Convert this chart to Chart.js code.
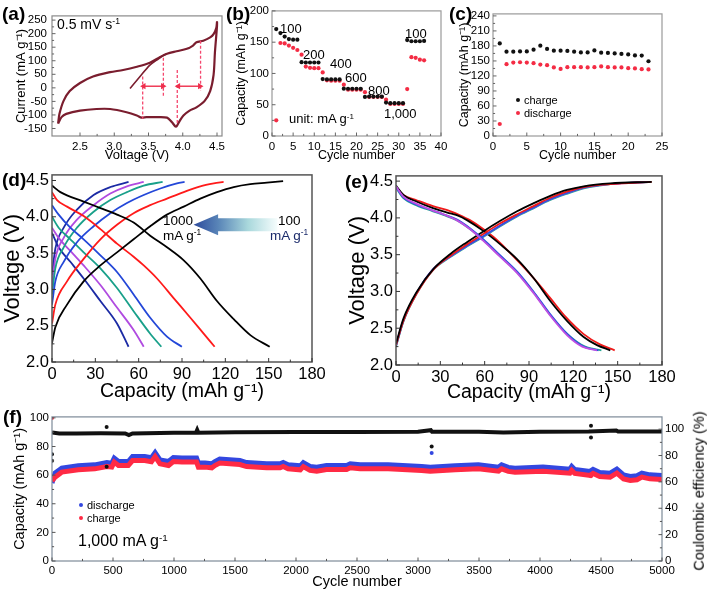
<!DOCTYPE html>
<html><head><meta charset="utf-8">
<script src="https://cdn.jsdelivr.net/npm/chart.js@4/dist/chart.umd.min.js"></script>
<style>
html,body{margin:0;padding:0;background:#fff;}
#root{position:relative;width:709px;height:593px;overflow:hidden;background:#fff;font-family:"Liberation Sans",Arial,sans-serif;}
canvas{position:absolute;}
.t{position:absolute;white-space:nowrap;line-height:1;color:#000;z-index:5;}
.t sup{font-size:0.62em;vertical-align:0.55em;line-height:0;}
.b{font-weight:bold;}
.rot{transform:translate(-50%,-50%) rotate(-90deg);}
.dot{position:absolute;border-radius:50%;z-index:5;}
</style></head><body><div id="root"></div>
<script>
// ---------------- DATA ----------------
// (a) cyclic voltammogram  [V, mA/g]
const cvStart = [[3.23,-2],[3.376,42],[3.52,84],[3.62,102],[3.72,120],[3.77,126]];
const cvLoop = [[2.18,-132],[2.2,-96],[2.26,-48],[2.35,-12],[2.5,18],[2.69,42],[2.94,58],[3.13,66],[3.33,78],[3.52,93],[3.67,114],[3.77,126],[3.91,135],[4.06,144],[4.15,156],[4.2,168],[4.3,174],[4.4,186],[4.45,198],[4.49,222],[4.5,243],[4.5,228],[4.47,132],[4.45,48],[4.4,-12],[4.32,-48],[4.2,-72],[4.1,-84],[4.01,-102],[3.96,-120],[3.91,-142],[3.89,-142],[3.84,-126],[3.77,-110],[3.62,-108],[3.47,-108],[3.4,-110],[3.33,-102],[3.18,-90],[2.94,-78],[2.74,-78],[2.5,-84],[2.3,-96],[2.23,-108],[2.18,-132]];
const peakV = [3.415, 3.717, 3.92, 4.26];
const peakTop = [42, 111, 66, 174];
const peakBottom = [-114, -30, -132, -12];
const shiftArrows = [[3.43, 3.71], [3.935, 4.25]];
const shiftArrowI = 6;
const aXTicks = [2.5, 3.0, 3.5, 4.0, 4.5];
const aYTicks = [-150, -100, -50, 0, 50, 100, 150, 200, 250];

// (b) rate capability
const bCycles = [1,2,3,4,5,6,7,8,9,10,11,12,13,14,15,16,17,18,19,20,21,22,23,24,25,26,27,28,29,30,31,32,33,34,35,36];
const bCharge = [171,164.5,159,155,154,154,118,117.5,117.5,117.5,117.5,91,90.5,90.5,90.5,90.5,75.7,75.5,75.5,75.5,75.5,62.4,63,63,63,63,53.4,52.5,52.5,52.5,52.5,153.4,151.5,151.5,151.5,152];
const bDischarge = [25,148.7,148,144.5,141,137.5,130,111,109,108.5,108.5,101.6,89,88.4,88.4,88.4,82,74,74,74,74,70,62.4,62.4,62.4,62.4,58,51.3,51.3,51.3,51.3,75,126,125,122,121];
const bXTicks = [0,5,10,15,20,25,30,35,40];
const bYTicks = [0,50,100,150,200];

// (c) cycling at 100 mA/g
const cCycles = [1,2,3,4,5,6,7,8,9,10,11,12,13,14,15,16,17,18,19,20,21,22,23];
const cCharge = [185,168.6,168.6,169,169,172.6,180.5,174,170.6,170.6,170,168.6,167,167,171,166.6,166,165,164,163,161,160.7,149.4];
const cDischarge = [24,143.5,146.8,147.4,146.8,145.5,142.8,141.5,137,134,137.5,137.5,137.5,137,137.5,139,137.5,137,137,135.5,135,133.5,133];
const cXTicks = [0,5,10,15,20,25];
const cYTicks = [0,30,60,90,120,150,180,210,240];

// (d) charge / discharge profiles at different rates [mAh/g, V]
const d100c = [[0,2.26],[2.3,2.48],[10.4,2.79],[21.9,3.11],[33.5,3.33],[45,3.51],[56.5,3.69],[68,3.87],[79.6,4.03],[91.2,4.14],[102.7,4.25],[114.2,4.34],[125.8,4.41],[137.3,4.45],[148.8,4.47],[160,4.49]];
const d100d = [[0,4.43],[5.8,4.34],[21.9,4.21],[33.5,4.12],[45,4.03],[56.5,3.92],[68,3.74],[79.6,3.58],[91.2,3.40],[102.7,3.15],[114.2,2.84],[125.8,2.59],[137.3,2.37],[150.7,2.21]];
const d200c = [[0,2.53],[2.3,2.79],[10.4,3.11],[21.9,3.42],[33.5,3.69],[45,3.89],[56.5,4.05],[68,4.16],[79.6,4.25],[91.2,4.34],[102.7,4.42],[112,4.46],[118.8,4.48]];
const d200d = [[0,4.34],[3.5,4.23],[10.4,4.14],[21.9,4.01],[33.5,3.83],[45,3.63],[56.5,3.45],[63.5,3.33],[72.7,3.15],[84.2,2.88],[95.8,2.61],[105,2.39],[112.6,2.21]];
const d400c = [[0,2.79],[2.3,3.11],[8.1,3.38],[17.3,3.65],[28.8,3.87],[40.4,4.05],[51.9,4.19],[63.5,4.30],[75,4.39],[86.5,4.46],[91.8,4.48]];
const d400d = [[0,4.16],[4.6,4.03],[12.7,3.85],[21.9,3.69],[33.5,3.47],[45,3.24],[56.5,2.93],[68,2.61],[79.6,2.35],[89.9,2.21]];
const d600c = [[0,2.93],[2.3,3.29],[8.1,3.58],[17.3,3.85],[28.8,4.07],[40.4,4.23],[51.9,4.34],[63.5,4.43],[76.6,4.48]];
const d600d = [[0,4.0],[4.6,3.85],[12.7,3.69],[21.9,3.51],[33.5,3.29],[45,3.02],[56.5,2.70],[68,2.39],[75.7,2.21]];
const d800c = [[0,3.06],[2.3,3.42],[8.1,3.71],[17.3,3.96],[28.8,4.16],[40.4,4.32],[51.9,4.42],[63.5,4.48]];
const d800d = [[0,3.85],[4.6,3.71],[12.7,3.53],[21.9,3.33],[33.5,3.06],[45,2.75],[56.5,2.44],[63.5,2.21]];
const d1000c = [[0,3.2],[2.3,3.56],[8.1,3.85],[17.3,4.10],[28.8,4.30],[40.4,4.41],[53,4.48]];
const d1000d = [[0,3.78],[4.6,3.58],[12.7,3.38],[21.9,3.15],[33.5,2.84],[45,2.53],[53,2.21]];
const capTicks = [0,30,60,90,120,150,180];
const voltTicks = [2.0,2.5,3.0,3.5,4.0,4.5];

// (e) profiles at selected cycles
const eBlackC = [[0,2.29],[5.2,2.64],[14.2,3.0],[25.5,3.31],[36.8,3.51],[48,3.67],[59.3,3.82],[70.6,3.96],[81.9,4.09],[93.2,4.2],[104.4,4.3],[115.7,4.38],[127,4.43],[145,4.47],[173,4.49]];
const eRedC = [[0,2.27],[5,2.6],[14,2.97],[25,3.29],[37,3.49],[48,3.64],[59,3.78],[70,3.92],[82,4.05],[93,4.16],[104,4.27],[116,4.36],[127,4.42],[145,4.46],[173,4.49]];
const eBlueC = [[0,2.26],[5,2.6],[14,2.98],[25,3.3],[37,3.48],[48,3.62],[59,3.75],[70,3.89],[82,4.03],[93,4.14],[104,4.25],[116,4.34],[127,4.41],[145,4.46],[172,4.49]];
const eGreenC = [[0,2.25],[5,2.59],[14,2.97],[25,3.29],[37,3.47],[48,3.61],[59,3.74],[70,3.88],[82,4.02],[93,4.13],[104,4.24],[116,4.33],[127,4.40],[145,4.46],[173,4.49]];
const eMagC = [[0,2.27],[5,2.61],[14,2.98],[25,3.3],[37,3.48],[48,3.62],[59,3.75],[70,3.89],[82,4.03],[93,4.14],[104,4.25],[116,4.34],[127,4.41],[145,4.46],[171,4.49]];
const eBlackD = [[0,4.44],[5.2,4.31],[14.2,4.22],[25.5,4.13],[36.8,4.06],[42,4.03],[48,3.97],[59.3,3.82],[70.6,3.64],[81.9,3.44],[93.2,3.18],[104.4,2.87],[115.7,2.6],[127,2.38],[136,2.27],[145,2.2]];
const eRedD = [[0,4.42],[5,4.31],[14,4.24],[25,4.16],[37,4.09],[43,4.04],[50,3.97],[59,3.85],[66,3.74],[75,3.57],[85,3.36],[94,3.16],[104,2.92],[115,2.65],[127,2.42],[138,2.28],[148,2.2]];
const eBlueD = [[0,4.42],[5,4.28],[14,4.18],[25,4.1],[32,4.05],[41,3.98],[50,3.86],[59,3.71],[70,3.5],[82,3.27],[93,3.0],[104,2.7],[116,2.42],[127,2.25],[137,2.2]];
const eGreenD = [[0,4.41],[5,4.27],[14,4.17],[25,4.09],[32,4.04],[41,3.97],[50,3.85],[59,3.7],[70,3.49],[82,3.26],[93,2.99],[104,2.69],[116,2.42],[128,2.25],[139,2.2]];
const eMagD = [[0,4.43],[5,4.29],[14,4.19],[25,4.1],[32,4.05],[41,3.97],[50,3.85],[59,3.69],[70,3.48],[82,3.25],[93,2.98],[104,2.68],[116,2.4],[126,2.25],[136,2.2]];

// (f) long-term cycling at 1,000 mA/g
const fCycles = [0,25,80,215,350,450,490,510,545,625,660,760,815,845,885,955,995,1065,1145,1185,1200,1255,1310,1335,1375,1540,1595,1760,1870,1895,1935,2035,2060,2115,2170,2250,2415,2445,2525,2755,3030,3100,3305,3495,3660,3685,3740,3795,4025,4245,4260,4285,4410,4435,4490,4575,4630,4685,4740,4795,4835,4900,5000];
const fDischarge = [54.5,61.4,64.9,66.5,67.2,68.8,68.4,71.9,69.5,69.5,73.0,73.0,72.2,75.8,70.7,69.5,72.3,71.9,71.9,71.9,68.4,68.4,67.9,69.5,71.2,70.2,68.8,67.9,67.9,68.8,67.2,66.5,68.8,66.1,65.6,66.7,66.7,67.9,67.2,67.2,66.1,65.6,66.5,67.2,65.6,67.2,65.4,64.9,65.6,64.2,66.1,64.0,62.6,64.0,61.9,61.4,64.2,60.2,59.1,59.6,61.4,60.2,59.8];
const fCharge = [56.0,58.6,62.1,63.7,64.4,66.0,65.6,69.1,66.7,66.7,70.2,70.2,69.4,73.0,67.9,66.7,69.5,69.1,69.1,69.1,65.6,65.6,65.1,66.7,68.4,67.4,66.0,65.1,65.1,66.0,64.4,63.7,66.0,63.3,62.8,63.9,63.9,65.1,64.4,64.4,63.3,62.8,63.7,64.4,62.8,64.4,62.6,62.1,62.8,61.4,63.3,61.2,59.8,61.2,59.1,58.6,61.4,57.4,56.3,56.8,58.6,57.4,57.0];
const fCECycles = [0,60,200,400,600,630,660,1000,1180,1190,1200,1500,2000,2500,3000,3105,3115,3500,3700,4000,4400,4625,4640,5000];
const fCE = [97.5,96.8,96.8,96.9,96.8,95.5,96.8,97.2,97.3,99.5,97.3,97.6,97.8,97.9,98.0,99.2,98.0,98.1,97.4,98.1,98.3,99.0,98.2,98.2];
const fCEOutX = [0,0,448,448,3112,4418,4418];
const fCEOutY = [81,76,101.7,71.5,86.9,102.5,93.7];
const fDisOutX = [3112];
const fDisOutY = [75.4];
const fChgOutX = [0,4418];
const fChgOutY = [100,59.2];
const fXTicks = [0,500,1000,1500,2000,2500,3000,3500,4000,4500,5000];
const fYTicks = [0,20,40,60,80,100];
const fY2Ticks = [0,20,40,60,80,100];

// ---------------- DRAWING ----------------
const FONT = '"Liberation Sans", Arial, sans-serif';
Chart.defaults.font.family = FONT;
Chart.defaults.color = '#000';
const root = document.getElementById('root');

const framePlugin = {
  id: 'frame',
  afterDatasetsDraw(chart, args, o) {
    if (!o || !o.color) return;
    const {ctx, chartArea: a} = chart;
    ctx.save();
    ctx.strokeStyle = o.color; ctx.lineWidth = o.width;
    ctx.strokeRect(a.left, a.top, a.right - a.left, a.bottom - a.top);
    ctx.lineWidth = 1; ctx.strokeStyle = o.tickColor || o.color;
    for (const s of Object.values(chart.scales)) {
      const vals = s.ticks.map(t => t.value);
      const marks = [];
      vals.forEach((v, i) => { marks.push([v, o.len]); if (i < vals.length - 1) marks.push([(v + vals[i + 1]) / 2, o.len * 0.6]); });
      for (const [v, L] of marks) {
        const p = s.getPixelForValue(v);
        ctx.beginPath();
        if (s.isHorizontal()) { ctx.moveTo(p, a.bottom); ctx.lineTo(p, a.bottom - L); }
        else if (s.position === 'right') { ctx.moveTo(a.right, p); ctx.lineTo(a.right - L, p); }
        else { ctx.moveTo(a.left, p); ctx.lineTo(a.left + L, p); }
        ctx.stroke();
      }
    }
    ctx.restore();
  }
};
Chart.register(framePlugin);

function axis(o) {
  return {
    type: 'linear', position: o.pos, min: o.min, max: o.max,
    grid: {display: false, drawTicks: false}, border: {display: false},
    afterBuildTicks: s => { s.ticks = o.ticks.map(v => ({value: v})); },
    afterFit: s => { if (o.pos === 'bottom') s.height = o.size; else s.width = o.size; },
    ticks: {font: {size: o.fs, family: FONT}, color: '#000', padding: o.pad === undefined ? 4 : o.pad,
            autoSkip: false, maxRotation: 0, minRotation: 0, callback: o.fmt || (v => v)},
    title: {display: !!o.title, text: o.title || '', font: {size: o.tfs, family: FONT}, color: '#000', padding: 0}
  };
}

function panel(p) {
  const [x0, y0, x1, y1] = p.area;
  const W = x1 - x0 + p.lw + p.rw, H = y1 - y0 + p.tp + p.bh;
  const cv = document.createElement('canvas');
  cv.width = W; cv.height = H;
  Object.assign(cv.style, {left: (x0 - p.lw) + 'px', top: (y0 - p.tp) + 'px', width: W + 'px', height: H + 'px'});
  root.appendChild(cv);
  const scales = {
    x: axis(Object.assign({pos: 'bottom', size: p.bh}, p.x)),
    y: axis(Object.assign({pos: 'left', size: p.lw}, p.y))
  };
  if (p.y2) scales.y2 = axis(Object.assign({pos: 'right', size: p.rw}, p.y2));
  return new Chart(cv, {
    type: 'scatter',
    data: {datasets: p.datasets},
    plugins: p.plugins || [],
    options: {
      responsive: false, animation: false, events: [], devicePixelRatio: 1,
      layout: {padding: {left: 0, top: p.tp, right: p.y2 ? 0 : p.rw, bottom: 0}},
      plugins: {legend: {display: false}, tooltip: {enabled: false}, frame: p.frame},
      scales
    }
  });
}

const pairs = arr => arr.map(([x, y]) => ({x, y}));
const zipXY = (xs, ys) => xs.map((x, i) => ({x, y: ys[i]}));
function curve(data, color, w, extra) {
  return Object.assign({data, showLine: true, borderColor: color, backgroundColor: color, borderWidth: w,
    pointRadius: 0, tension: 0, fill: false}, extra || {});
}
function dots(data, color, r, extra) {
  return Object.assign({data, showLine: false, pointRadius: r, pointBackgroundColor: color, backgroundColor: color,
    pointBorderWidth: 0, borderColor: color}, extra || {});
}
const mono = {cubicInterpolationMode: 'monotone'};
const one = v => Number(v).toFixed(1);

// ----- (a)
const aSets = [];
shiftArrows.forEach(([l, r]) => aSets.push(curve([{x: l, y: shiftArrowI}, {x: r, y: shiftArrowI}], '#ee2e4c', 1.4,
  {pointRadius: 3.6, pointStyle: 'triangle', pointRotation: [270, 90], pointBackgroundColor: '#ee2e4c', pointBorderWidth: 0})));
peakV.forEach((v, i) => aSets.push(curve([{x: v, y: peakTop[i]}, {x: v, y: peakBottom[i]}], '#f5476e', 1.3, {borderDash: [3, 2]})));
aSets.push(curve(pairs(cvLoop), '#7a1d2e', 2.2, {tension: 0.3}));
aSets.push(curve(pairs(cvStart), '#7a1d2e', 1.6, {tension: 0.3}));
panel({area: [52, 13, 222, 136], lw: 38, bh: 27, rw: 14, tp: 9,
  x: {min: 2.091, max: 4.573, ticks: aXTicks, fs: 11.5, tfs: 13, title: 'Voltage (V)', fmt: one},
  y: {min: -177.7, max: 265.5, ticks: aYTicks, fs: 11.5, tfs: 13, title: 'Current (mA g⁻¹)', pad: 5},
  frame: {color: '#8a8a8a', width: 1.2, len: 3.5, tickColor: '#666'},
  datasets: aSets});

// ----- (b)
panel({area: [272, 10, 441, 136], lw: 38, bh: 27, rw: 14, tp: 9,
  x: {min: 0, max: 40, ticks: bXTicks, fs: 11.5, tfs: 12.5, title: 'Cycle number'},
  y: {min: 0, max: 200, ticks: bYTicks, fs: 11.5, tfs: 12.5, title: 'Capacity (mAh g⁻¹)', pad: 3},
  frame: {color: '#9a9a9a', width: 1.2, len: 3.5, tickColor: '#666'},
  datasets: [dots(zipXY(bCycles, bCharge), '#111111', 2.1), dots(zipXY(bCycles, bDischarge), '#f42c44', 2.1)]});

// ----- (c)
panel({area: [493, 13, 662, 136], lw: 36, bh: 27, rw: 14, tp: 9,
  x: {min: 0, max: 25, ticks: cXTicks, fs: 11.5, tfs: 12.5, title: 'Cycle number'},
  y: {min: 0, max: 244, ticks: cYTicks, fs: 11.5, tfs: 12.5, title: 'Capacity (mAh g⁻¹)', pad: 3},
  frame: {color: '#9a9a9a', width: 1.2, len: 3.5, tickColor: '#666'},
  datasets: [dots(zipXY(cCycles, cCharge), '#111111', 2.1), dots(zipXY(cCycles, cDischarge), '#f42c44', 2.1)]});

// ----- (d)
const dArrow = {tip: 98, neck: 115, tail: 156, v: 3.89};
const arrowPlugin = {
  id: 'rateArrow',
  afterDatasetsDraw(chart) {
    const {ctx} = chart; const xs = chart.scales.x, ys = chart.scales.y;
    const xt = xs.getPixelForValue(dArrow.tip), xn = xs.getPixelForValue(dArrow.neck);
    const xe = xs.getPixelForValue(dArrow.tail), yc = ys.getPixelForValue(dArrow.v);
    const g = ctx.createLinearGradient(xt, 0, xe, 0);
    g.addColorStop(0, '#2d4a9c'); g.addColorStop(0.3, '#5a86b8'); g.addColorStop(0.65, '#a9d8dc'); g.addColorStop(1, '#f6fdfd');
    ctx.save(); ctx.fillStyle = g; ctx.beginPath();
    ctx.moveTo(xt, yc); ctx.lineTo(xn, yc - 10.5); ctx.lineTo(xn, yc - 6.5); ctx.lineTo(xe, yc - 6.5);
    ctx.lineTo(xe, yc + 6.5); ctx.lineTo(xn, yc + 6.5); ctx.lineTo(xn, yc + 10.5); ctx.closePath(); ctx.fill();
    ctx.restore();
  }
};
const dCol = {r100: '#000000', r200: '#ff1a1a', r400: '#2347d8', r600: '#19a08a', r800: '#b04be0', r1000: '#1b2aa4'};
panel({area: [52, 171, 312, 362], lw: 52, bh: 41, rw: 20, tp: 9,
  x: {min: 0, max: 180, ticks: capTicks, fs: 16.5, tfs: 19.5, title: 'Capacity (mAh g⁻¹)', pad: 3},
  y: {min: 2.0, max: 4.577, ticks: voltTicks, fs: 16.5, tfs: 22, title: 'Voltage (V)', fmt: one, pad: 3},
  frame: {color: '#555555', width: 1.5, len: 4, tickColor: '#333'},
  plugins: [arrowPlugin],
  datasets: [
    curve(pairs(d100c), dCol.r100, 1.8, mono), curve(pairs(d100d), dCol.r100, 1.8, mono),
    curve(pairs(d200c), dCol.r200, 1.8, mono), curve(pairs(d200d), dCol.r200, 1.8, mono),
    curve(pairs(d400c), dCol.r400, 1.8, mono), curve(pairs(d400d), dCol.r400, 1.8, mono),
    curve(pairs(d600c), dCol.r600, 1.8, mono), curve(pairs(d600d), dCol.r600, 1.8, mono),
    curve(pairs(d800c), dCol.r800, 1.8, mono), curve(pairs(d800d), dCol.r800, 1.8, mono),
    curve(pairs(d1000c), dCol.r1000, 1.8, mono), curve(pairs(d1000d), dCol.r1000, 1.8, mono)
  ]});

// ----- (e)
panel({area: [396, 172, 662, 365], lw: 51, bh: 39, rw: 20, tp: 9,
  x: {min: 0, max: 180, ticks: capTicks, fs: 16.5, tfs: 19.5, title: 'Capacity (mAh g⁻¹)', pad: 3},
  y: {min: 2.0, max: 4.571, ticks: voltTicks, fs: 16.5, tfs: 22, title: 'Voltage (V)', fmt: one, pad: 3},
  frame: {color: '#555555', width: 1.5, len: 4, tickColor: '#333'},
  datasets: [
    curve(pairs(eMagD), '#c04fe2', 1.8, mono), curve(pairs(eBlueD), '#2f52e0', 1.8, mono), curve(pairs(eGreenD), '#26a592', 1.8, mono),
    curve(pairs(eBlackC), '#000000', 1.8, mono), curve(pairs(eRedC), '#f01a1a', 1.8, mono),
    curve(pairs(eBlueC), '#2f52e0', 1.8, mono), curve(pairs(eMagC), '#c04fe2', 1.8, mono), curve(pairs(eGreenC), '#26a592', 1.8, mono),
    curve(pairs(eBlackD), '#000000', 1.8, mono), curve(pairs(eRedD), '#f01a1a', 1.8, mono)
  ]});

// ----- (f)
panel({area: [52, 416, 662, 561], lw: 41, bh: 30, rw: 46, tp: 9,
  x: {min: 0, max: 5000, ticks: fXTicks, fs: 11.5, tfs: 14.5, title: 'Cycle number', pad: 3},
  y: {min: 0, max: 100.7, ticks: fYTicks, fs: 11.5, tfs: 14.5, title: 'Capacity (mAh g⁻¹)', pad: 3},
  y2: {min: 0, max: 109.3, ticks: fY2Ticks, fs: 11.5, pad: 3},
  frame: {color: '#7d8a98', width: 1.2, len: 3.5, tickColor: '#555'},
  datasets: [
    dots(zipXY(fCEOutX, fCEOutY), '#111111', 2, {yAxisID: 'y2'}),
    dots(zipXY(fDisOutX, fDisOutY), '#3347e0', 2),
    dots(zipXY(fChgOutX, fChgOutY), '#ff2a44', 2),
    curve(zipXY(fCycles, fCharge), '#ff2a44', 5),
    curve(zipXY(fCycles, fDischarge), '#3347e0', 5),
    curve(zipXY(fCECycles, fCE), '#111111', 4, {yAxisID: 'y2'})
  ]});

// ---------------- TEXT ----------------
function txt(html, x, yc, size, cls, color) {
  const d = document.createElement('div');
  d.className = 't' + (cls ? ' ' + cls : '');
  d.innerHTML = html;
  Object.assign(d.style, {left: x + 'px', top: (yc - size * 0.5) + 'px', fontSize: size + 'px'});
  if (color) d.style.color = color;
  root.appendChild(d);
  return d;
}
function dot(x, y, r, color) {
  const d = document.createElement('div'); d.className = 'dot';
  Object.assign(d.style, {left: (x - r) + 'px', top: (y - r) + 'px', width: 2 * r + 'px', height: 2 * r + 'px', background: color});
  root.appendChild(d);
}
txt('(a)', 2, 13, 19, 'b');
txt('(b)', 226, 13, 19, 'b');
txt('(c)', 449, 13, 19, 'b');
txt('(d)', 2, 179, 19, 'b');
txt('(e)', 345, 181, 19, 'b');
txt('(f)', 3, 416, 19, 'b');
txt('0.5 mV s<sup>-1</sup>', 57, 24, 14);
txt('100', 280, 28, 13); txt('200', 303, 54, 13); txt('400', 330, 63, 13); txt('600', 345, 77, 13);
txt('800', 368, 90, 13); txt('1,000', 384, 113, 13); txt('100', 405, 33, 13);
txt('unit: mA g<sup>-1</sup>', 289, 118, 13);
dot(518, 100, 2, '#111'); txt('charge', 524, 100, 11);
dot(518, 113, 2, '#f42c44'); txt('discharge', 524, 113, 11);
txt('1000', 163, 221, 13.5); txt('mA g<sup>-1</sup>', 163, 236, 13.5);
txt('100', 278, 221, 13.5); txt('mA g<sup>-1</sup>', 270, 236, 13.5, '', '#1a2a6a');
dot(81, 505, 2, '#3347e0'); txt('discharge', 87, 505, 11);
dot(81, 518, 2, '#ff2a44'); txt('charge', 87, 518, 11);
txt('1,000 mA g<sup>-1</sup>', 78, 541, 16);
// right axis title of (f), reading bottom-to-top
const ce = txt('Coulombic efficiency (%)', 699, 491, 14.5, 'rot');
ce.style.top = '491px';
</script></body></html>
